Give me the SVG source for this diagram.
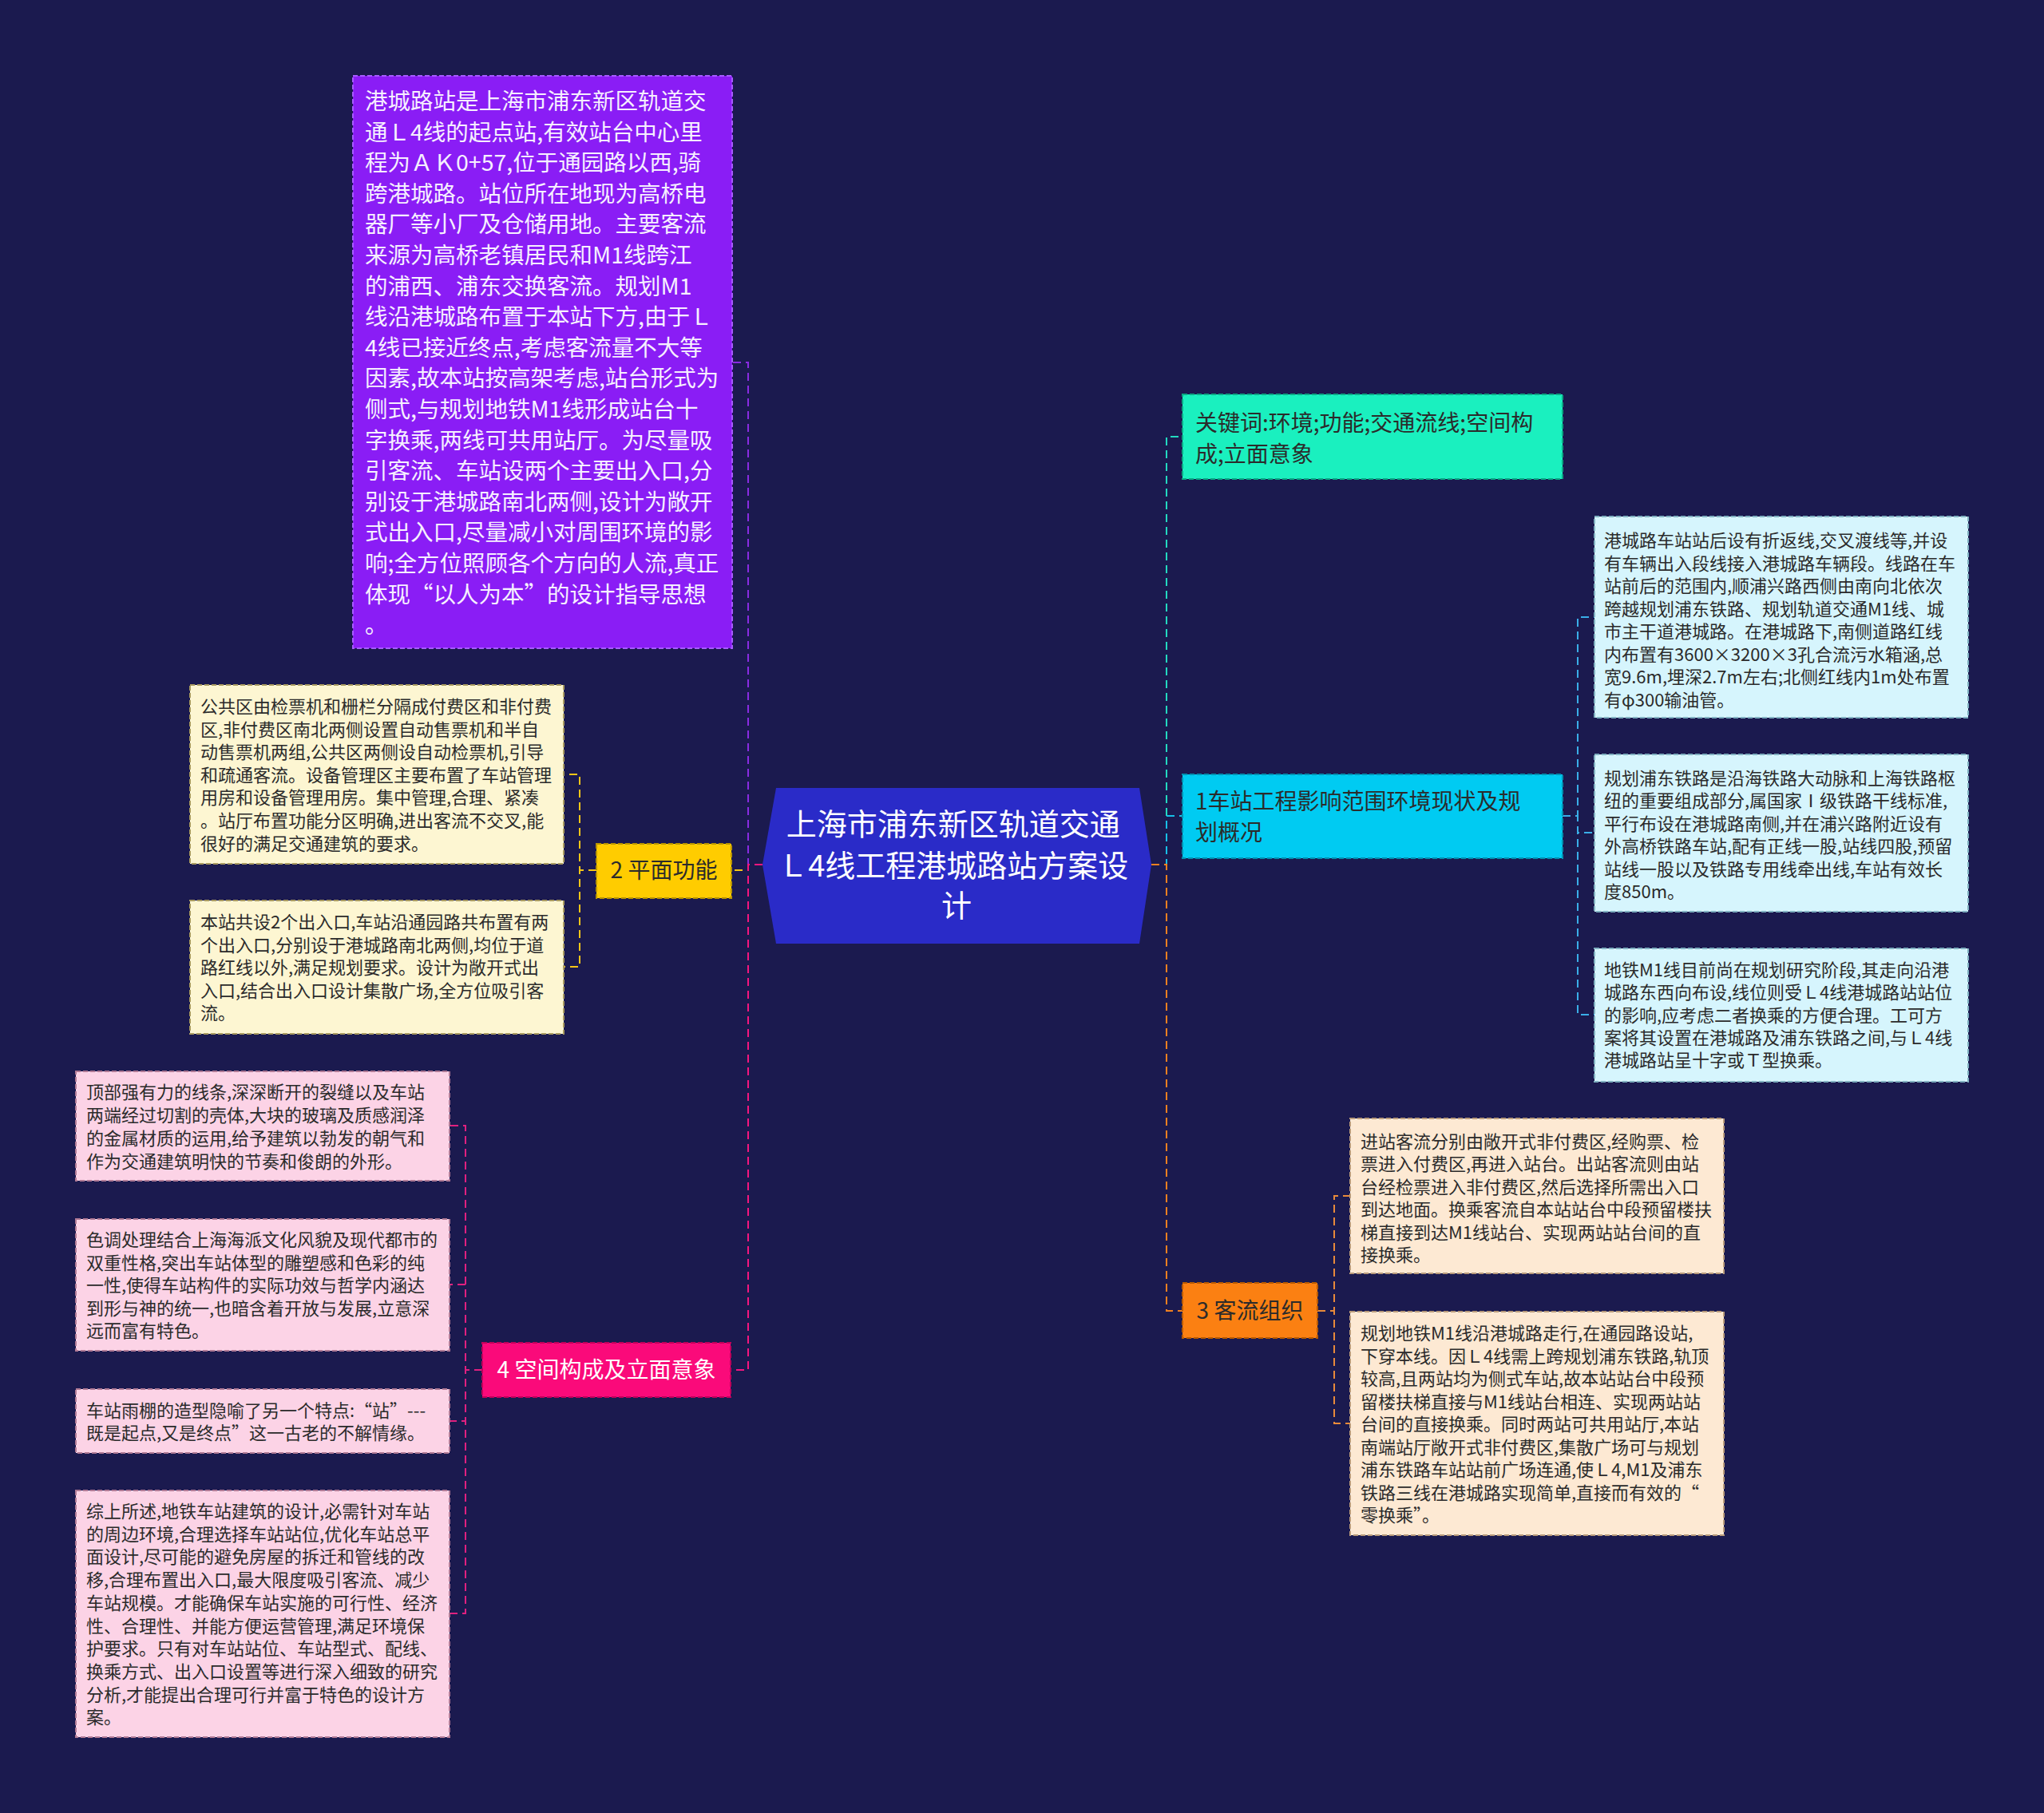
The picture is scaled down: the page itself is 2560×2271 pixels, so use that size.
<svg xmlns="http://www.w3.org/2000/svg" width="2560" height="2271" viewBox="0 0 2560 2271">
<style>
.t{font-family:"Noto Sans CJK SC","Noto Sans",sans-serif;}
.c{fill:none;stroke-width:2;stroke-dasharray:10 6;}
.b{stroke-width:2;stroke-dasharray:6 3;}
.s22{font-size:22px;}
.s28{font-size:28px;}
.dk{fill:#2b2b2b;}
</style>
<rect x="0" y="0" width="2560" height="2271" fill="#1b1a4f"/>
<g id="connectors">
  <path class="c" stroke="#8a2be2" d="M955 1083 H937 V454 H917"/>
  <path class="c" stroke="#f5c518" d="M955 1083 H937 V1090 H916"/>
  <path class="c" stroke="#f5157f" d="M955 1083 H937 V1716 H915"/>
  <path class="c" stroke="#23d9c0" d="M1442 1083 H1461 V547 H1481"/>
  <path class="c" stroke="#17bfe8" d="M1442 1083 H1461 V1022 H1481"/>
  <path class="c" stroke="#f08020" d="M1442 1083 H1461 V1642 H1481"/>
  <path class="c" stroke="#f5c518" d="M747 1090 H726 V970 H706"/>
  <path class="c" stroke="#f5c518" d="M747 1090 H726 V1211 H706"/>
  <path class="c" stroke="#e0207f" d="M604 1716 H583 V1410 H563"/>
  <path class="c" stroke="#e0207f" d="M604 1716 H583 V1609 H563"/>
  <path class="c" stroke="#e0207f" d="M604 1716 H583 V1780 H563"/>
  <path class="c" stroke="#e0207f" d="M604 1716 H583 V2021 H563"/>
  <path class="c" stroke="#3aaee8" d="M1957 1022 H1976 V773 H1997"/>
  <path class="c" stroke="#3aaee8" d="M1957 1022 H1976 V1043 H1997"/>
  <path class="c" stroke="#3aaee8" d="M1957 1022 H1976 V1271 H1997"/>
  <path class="c" stroke="#e88a3a" d="M1650 1642 H1671 V1498 H1691"/>
  <path class="c" stroke="#e88a3a" d="M1650 1642 H1671 V1783 H1691"/>
</g>
<g id="center">
  <polygon points="972,987 1427,987 1442,1083 1427,1182 972,1182 955,1083" fill="#2a2bc8"/>
  <text class="t" font-size="38" fill="#ffffff" text-anchor="middle">
    <tspan x="1198" y="1046">上海市浦东新区轨道交通</tspan>
    <tspan x="1198" y="1098">Ｌ4线工程港城路站方案设</tspan>
    <tspan x="1198" y="1148">计</tspan>
  </text>
</g>
<g id="node-intro">
  <rect class="b" x="442" y="95" width="475" height="717" fill="#8a1df5" stroke="#a75bff"/>
  <text class="t" font-size="28.5" fill="#f6efff">
    <tspan x="457" y="137">港城路站是上海市浦东新区轨道交</tspan>
    <tspan x="457" y="175.6">通Ｌ4线的起点站,有效站台中心里</tspan>
    <tspan x="457" y="214.2">程为ＡＫ0+57,位于通园路以西,骑</tspan>
    <tspan x="457" y="252.8">跨港城路。站位所在地现为高桥电</tspan>
    <tspan x="457" y="291.4">器厂等小厂及仓储用地。主要客流</tspan>
    <tspan x="457" y="330">来源为高桥老镇居民和M1线跨江</tspan>
    <tspan x="457" y="368.6">的浦西、浦东交换客流。规划M1</tspan>
    <tspan x="457" y="407.2">线沿港城路布置于本站下方,由于Ｌ</tspan>
    <tspan x="457" y="445.8">4线已接近终点,考虑客流量不大等</tspan>
    <tspan x="457" y="484.4">因素,故本站按高架考虑,站台形式为</tspan>
    <tspan x="457" y="523">侧式,与规划地铁M1线形成站台十</tspan>
    <tspan x="457" y="561.6">字换乘,两线可共用站厅。为尽量吸</tspan>
    <tspan x="457" y="600.2">引客流、车站设两个主要出入口,分</tspan>
    <tspan x="457" y="638.8">别设于港城路南北两侧,设计为敞开</tspan>
    <tspan x="457" y="677.4">式出入口,尽量减小对周围环境的影</tspan>
    <tspan x="457" y="716">响;全方位照顾各个方向的人流,真正</tspan>
    <tspan x="457" y="754.6">体现“以人为本”的设计指导思想</tspan>
    <tspan x="457" y="793.2">。</tspan>
  </text>
</g>
<g id="node-2">
  <rect class="b" x="747" y="1057" width="169" height="68" fill="#ffcc00" stroke="#b89400"/>
  <text class="t s28 dk" x="831.5" y="1100" text-anchor="middle">2 平面功能</text>
</g>
<g id="node-2a">
  <rect class="b" x="238" y="858" width="468" height="224" fill="#fdf6d2" stroke="#a89a60"/>
  <text class="t s22 dk">
    <tspan x="251" y="893">公共区由检票机和栅栏分隔成付费区和非付费</tspan>
    <tspan x="251" y="921.6">区,非付费区南北两侧设置自动售票机和半自</tspan>
    <tspan x="251" y="950.2">动售票机两组,公共区两侧设自动检票机,引导</tspan>
    <tspan x="251" y="978.8">和疏通客流。设备管理区主要布置了车站管理</tspan>
    <tspan x="251" y="1007.4">用房和设备管理用房。集中管理,合理、紧凑</tspan>
    <tspan x="251" y="1036">。站厅布置功能分区明确,进出客流不交叉,能</tspan>
    <tspan x="251" y="1064.6">很好的满足交通建筑的要求。</tspan>
  </text>
</g>
<g id="node-2b">
  <rect class="b" x="238" y="1128" width="468" height="167" fill="#fdf6d2" stroke="#a89a60"/>
  <text class="t s22 dk">
    <tspan x="251" y="1163">本站共设2个出入口,车站沿通园路共布置有两</tspan>
    <tspan x="251" y="1191.6">个出入口,分别设于港城路南北两侧,均位于道</tspan>
    <tspan x="251" y="1220.2">路红线以外,满足规划要求。设计为敞开式出</tspan>
    <tspan x="251" y="1248.8">入口,结合出入口设计集散广场,全方位吸引客</tspan>
    <tspan x="251" y="1277.4">流。</tspan>
  </text>
</g>
<g id="node-4">
  <rect class="b" x="604" y="1682" width="311" height="68" fill="#fa0a7a" stroke="#c0005a"/>
  <text class="t s28" fill="#ffffff" x="759.5" y="1726" text-anchor="middle">4 空间构成及立面意象</text>
</g>
<g id="node-4a">
  <rect class="b" x="95" y="1342" width="468" height="137" fill="#fcd3e6" stroke="#b07a95"/>
  <text class="t s22 dk">
    <tspan x="108" y="1376">顶部强有力的线条,深深断开的裂缝以及车站</tspan>
    <tspan x="108" y="1405">两端经过切割的壳体,大块的玻璃及质感润泽</tspan>
    <tspan x="108" y="1434">的金属材质的运用,给予建筑以勃发的朝气和</tspan>
    <tspan x="108" y="1463">作为交通建筑明快的节奏和俊朗的外形。</tspan>
  </text>
</g>
<g id="node-4b">
  <rect class="b" x="95" y="1527" width="468" height="165" fill="#fcd3e6" stroke="#b07a95"/>
  <text class="t s22 dk">
    <tspan x="108" y="1561">色调处理结合上海海派文化风貌及现代都市的</tspan>
    <tspan x="108" y="1589.5">双重性格,突出车站体型的雕塑感和色彩的纯</tspan>
    <tspan x="108" y="1618">一性,使得车站构件的实际功效与哲学内涵达</tspan>
    <tspan x="108" y="1646.5">到形与神的统一,也暗含着开放与发展,立意深</tspan>
    <tspan x="108" y="1675">远而富有特色。</tspan>
  </text>
</g>
<g id="node-4c">
  <rect class="b" x="95" y="1740" width="468" height="80" fill="#fcd3e6" stroke="#b07a95"/>
  <text class="t s22 dk">
    <tspan x="108" y="1775">车站雨棚的造型隐喻了另一个特点:“站”---</tspan>
    <tspan x="108" y="1803">既是起点,又是终点”这一古老的不解情缘。</tspan>
  </text>
</g>
<g id="node-4d">
  <rect class="b" x="95" y="1867" width="468" height="309" fill="#fcd3e6" stroke="#b07a95"/>
  <text class="t s22 dk">
    <tspan x="108" y="1901">综上所述,地铁车站建筑的设计,必需针对车站</tspan>
    <tspan x="108" y="1929.7">的周边环境,合理选择车站站位,优化车站总平</tspan>
    <tspan x="108" y="1958.4">面设计,尽可能的避免房屋的拆迁和管线的改</tspan>
    <tspan x="108" y="1987.1">移,合理布置出入口,最大限度吸引客流、减少</tspan>
    <tspan x="108" y="2015.8">车站规模。才能确保车站实施的可行性、经济</tspan>
    <tspan x="108" y="2044.5">性、合理性、并能方便运营管理,满足环境保</tspan>
    <tspan x="108" y="2073.2">护要求。只有对车站站位、车站型式、配线、</tspan>
    <tspan x="108" y="2101.9">换乘方式、出入口设置等进行深入细致的研究</tspan>
    <tspan x="108" y="2130.6">分析,才能提出合理可行并富于特色的设计方</tspan>
    <tspan x="108" y="2159.3">案。</tspan>
  </text>
</g>
<g id="node-keywords">
  <rect class="b" x="1481" y="494" width="476" height="106" fill="#1af0bf" stroke="#0aa884"/>
  <text class="t s28 dk">
    <tspan x="1497" y="540">关键词:环境;功能;交通流线;空间构</tspan>
    <tspan x="1497" y="579">成;立面意象</tspan>
  </text>
</g>
<g id="node-1">
  <rect class="b" x="1481" y="970" width="476" height="105" fill="#00cbf2" stroke="#0090b0"/>
  <text class="t s28 dk">
    <tspan x="1497" y="1014">1车站工程影响范围环境现状及规</tspan>
    <tspan x="1497" y="1053">划概况</tspan>
  </text>
</g>
<g id="node-1a">
  <rect class="b" x="1997" y="647" width="468" height="252" fill="#d6f5fd" stroke="#7fb0c0"/>
  <text class="t s22 dk">
    <tspan x="2009" y="685">港城路车站站后设有折返线,交叉渡线等,并设</tspan>
    <tspan x="2009" y="713.5">有车辆出入段线接入港城路车辆段。线路在车</tspan>
    <tspan x="2009" y="742">站前后的范围内,顺浦兴路西侧由南向北依次</tspan>
    <tspan x="2009" y="770.5">跨越规划浦东铁路、规划轨道交通M1线、城</tspan>
    <tspan x="2009" y="799">市主干道港城路。在港城路下,南侧道路红线</tspan>
    <tspan x="2009" y="827.5">内布置有3600×3200×3孔合流污水箱涵,总</tspan>
    <tspan x="2009" y="856">宽9.6m,埋深2.7m左右;北侧红线内1m处布置</tspan>
    <tspan x="2009" y="884.5">有φ300输油管。</tspan>
  </text>
</g>
<g id="node-1b">
  <rect class="b" x="1997" y="945" width="468" height="197" fill="#d6f5fd" stroke="#7fb0c0"/>
  <text class="t s22 dk">
    <tspan x="2009" y="983">规划浦东铁路是沿海铁路大动脉和上海铁路枢</tspan>
    <tspan x="2009" y="1011.4">纽的重要组成部分,属国家Ⅰ级铁路干线标准,</tspan>
    <tspan x="2009" y="1039.8">平行布设在港城路南侧,并在浦兴路附近设有</tspan>
    <tspan x="2009" y="1068.2">外高桥铁路车站,配有正线一股,站线四股,预留</tspan>
    <tspan x="2009" y="1096.6">站线一股以及铁路专用线牵出线,车站有效长</tspan>
    <tspan x="2009" y="1125">度850m。</tspan>
  </text>
</g>
<g id="node-1c">
  <rect class="b" x="1997" y="1188" width="468" height="167" fill="#d6f5fd" stroke="#7fb0c0"/>
  <text class="t s22 dk">
    <tspan x="2009" y="1223">地铁M1线目前尚在规划研究阶段,其走向沿港</tspan>
    <tspan x="2009" y="1251.3">城路东西向布设,线位则受Ｌ4线港城路站站位</tspan>
    <tspan x="2009" y="1279.6">的影响,应考虑二者换乘的方便合理。工可方</tspan>
    <tspan x="2009" y="1307.9">案将其设置在港城路及浦东铁路之间,与Ｌ4线</tspan>
    <tspan x="2009" y="1336.2">港城路站呈十字或Ｔ型换乘。</tspan>
  </text>
</g>
<g id="node-3">
  <rect class="b" x="1481" y="1607" width="169" height="69" fill="#fb8012" stroke="#b85a00"/>
  <text class="t s28 dk" x="1565.5" y="1652" text-anchor="middle">3 客流组织</text>
</g>
<g id="node-3a">
  <rect class="b" x="1691" y="1401" width="468" height="194" fill="#fde9d3" stroke="#b89a7a"/>
  <text class="t s22 dk">
    <tspan x="1704" y="1438">进站客流分别由敞开式非付费区,经购票、检</tspan>
    <tspan x="1704" y="1466.4">票进入付费区,再进入站台。出站客流则由站</tspan>
    <tspan x="1704" y="1494.8">台经检票进入非付费区,然后选择所需出入口</tspan>
    <tspan x="1704" y="1523.2">到达地面。换乘客流自本站站台中段预留楼扶</tspan>
    <tspan x="1704" y="1551.6">梯直接到达M1线站台、实现两站站台间的直</tspan>
    <tspan x="1704" y="1580">接换乘。</tspan>
  </text>
</g>
<g id="node-3b">
  <rect class="b" x="1691" y="1643" width="468" height="280" fill="#fde9d3" stroke="#b89a7a"/>
  <text class="t s22 dk">
    <tspan x="1704" y="1678">规划地铁M1线沿港城路走行,在通园路设站,</tspan>
    <tspan x="1704" y="1706.5">下穿本线。因Ｌ4线需上跨规划浦东铁路,轨顶</tspan>
    <tspan x="1704" y="1735">较高,且两站均为侧式车站,故本站站台中段预</tspan>
    <tspan x="1704" y="1763.5">留楼扶梯直接与M1线站台相连、实现两站站</tspan>
    <tspan x="1704" y="1792">台间的直接换乘。同时两站可共用站厅,本站</tspan>
    <tspan x="1704" y="1820.5">南端站厅敞开式非付费区,集散广场可与规划</tspan>
    <tspan x="1704" y="1849">浦东铁路车站站前广场连通,使Ｌ4,M1及浦东</tspan>
    <tspan x="1704" y="1877.5">铁路三线在港城路实现简单,直接而有效的“</tspan>
    <tspan x="1704" y="1906">零换乘”。</tspan>
  </text>
</g>
</svg>
